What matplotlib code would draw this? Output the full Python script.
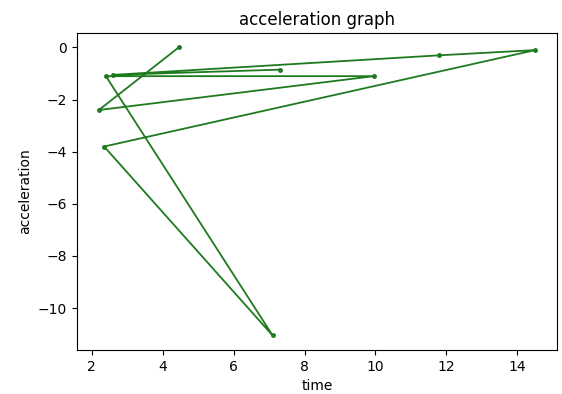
import matplotlib
matplotlib.use("Agg")
import matplotlib.pyplot as plt

# samples in recorded order (time is not sorted)
time = [4.45, 2.2, 9.95, 2.4, 7.1, 2.35, 14.5, 11.8, 2.6, 7.3]
acceleration = [0.0, -2.4, -1.1, -1.1, -11.05, -3.8, -0.1, -0.3, -1.05, -0.85]

fig, ax = plt.subplots(figsize=(5.62, 3.94), dpi=100)
fig.subplots_adjust(left=0.137, right=0.991, top=0.916, bottom=0.112)

ax.plot(time, acceleration, color='#1e7a1e', marker='.', markersize=5, linewidth=1.3)

ax.set_title('acceleration graph')
ax.set_xlabel('time')
ax.set_ylabel('acceleration')

fig.savefig('out.png', dpi=100)
